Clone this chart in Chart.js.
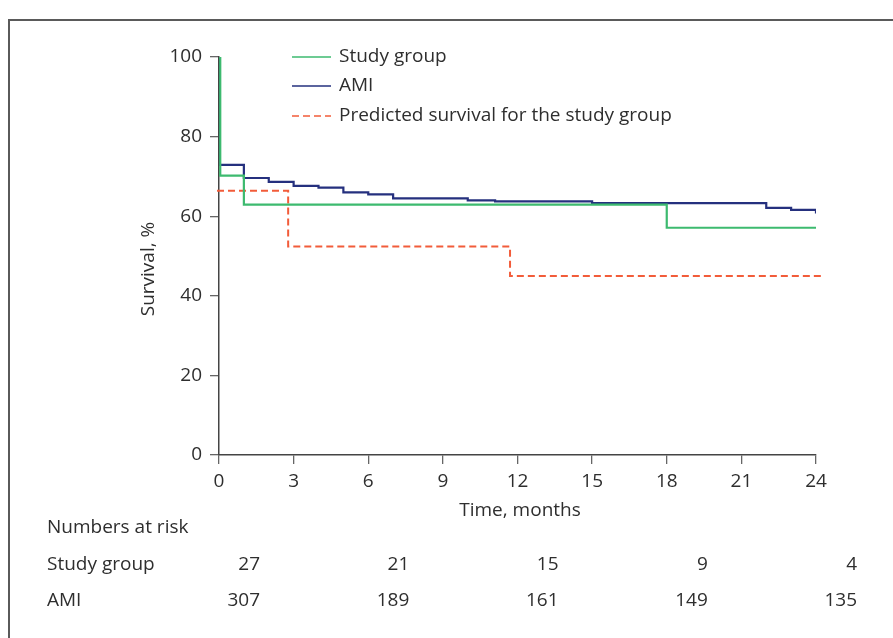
<!DOCTYPE html>
<html>
<head>
<meta charset="utf-8">
<script src="https://cdn.jsdelivr.net/npm/chart.js@4"></script>
<style>
  body { margin: 0; background: #fff; }
  canvas { display: block; }
</style>
</head>
<body>
<canvas id="mycanvas" width="893" height="638"></canvas>
<script>
// Kaplan-Meier curves (months, survival %)
var studyTime = [0, 0.05, 1, 18, 24];
var studySurv = [100, 70.2, 62.9, 57.1, 57.1];

var amiTime = [0, 0, 1, 2, 3, 4, 5, 6, 7, 10, 11.1, 15, 22, 23, 24];
var amiSurv = [100, 72.9, 69.6, 68.6, 67.6, 67.2, 66.0, 65.5, 64.5, 64.0, 63.7, 63.3, 62.1, 61.6, 60.7];

var predTime = [-0.08, -0.08, 2.78, 11.7, 24.2];
var predSurv = [100, 66.4, 52.4, 45.0, 45.0];

var seriesNames = ["Study group", "AMI", "Predicted survival for the study group"];

// numbers at risk table
var riskMonths = [0, 6, 12, 18, 24];
var riskStudy = [27, 21, 15, 9, 4];
var riskAmi = [307, 189, 161, 149, 135];

var xTicks = [0, 3, 6, 9, 12, 15, 18, 21, 24];
var yTicks = [0, 20, 40, 60, 80, 100];

function toPoints(t, v) {
    var pts = [];
    for (var i in t) {
        pts.push({x: t[i], y: v[i]});
    }
    return pts;
}

var textColor = "#2e2e2e";
var fontFam = "'Open Sans', sans-serif";
var fontSize = 19;

// extra text: frame, legend, axis titles, risk table
var extras = {
    id: "extras",
    afterDraw: function(chart) {
        var ctx = chart.ctx;
        var xs = chart.scales.x;
        ctx.save();

        // frame (top + left edges)
        ctx.strokeStyle = "#5a5a5a";
        ctx.lineWidth = 2;
        ctx.beginPath();
        ctx.moveTo(893, 20);
        ctx.lineTo(9, 20);
        ctx.lineTo(9, 638);
        ctx.stroke();

        ctx.font = fontSize + "px " + fontFam;
        ctx.fillStyle = textColor;
        ctx.textBaseline = "middle";

        // legend
        var ly = [57, 86, 116];
        chart.data.datasets.forEach(function(ds, i) {
            ctx.strokeStyle = ds.borderColor;
            ctx.lineWidth = 1.6;
            ctx.setLineDash(ds.borderDash || []);
            ctx.beginPath();
            ctx.moveTo(292, ly[i]);
            ctx.lineTo(331, ly[i]);
            ctx.stroke();
            ctx.setLineDash([]);
            ctx.textAlign = "left";
            ctx.fillText(seriesNames[i], 339, ly[i]);
        });

        // axis titles
        ctx.textAlign = "center";
        ctx.fillText("Time, months", 520, 511);
        ctx.save();
        ctx.translate(149, 269);
        ctx.rotate(-Math.PI / 2);
        ctx.fillText("Survival, %", 0, 0);
        ctx.restore();

        // numbers at risk
        ctx.textAlign = "left";
        ctx.fillText("Numbers at risk", 47, 528);
        ctx.fillText("Study group", 47, 565);
        ctx.fillText("AMI", 47, 601);
        ctx.textAlign = "right";
        for (var i in riskMonths) {
            var px = xs.getPixelForValue(riskMonths[i]) + 41;
            ctx.fillText(String(riskStudy[i]), px, 565);
            ctx.fillText(String(riskAmi[i]), px, 601);
        }
        ctx.restore();
    }
};

var chartdata = {
    datasets: [
        {
            label: seriesNames[0],
            data: toPoints(studyTime, studySurv),
            borderColor: "#3dba6f",
            borderWidth: 2.2,
            stepped: "before",
            pointRadius: 0,
            fill: false,
            order: 0
        },
        {
            label: seriesNames[1],
            data: toPoints(amiTime, amiSurv),
            borderColor: "#25307e",
            borderWidth: 2.2,
            stepped: "before",
            pointRadius: 0,
            fill: false,
            order: 1
        },
        {
            label: seriesNames[2],
            data: toPoints(predTime, predSurv),
            borderColor: "#f25c3a",
            borderWidth: 2,
            borderDash: [7, 4],
            stepped: "before",
            pointRadius: 0,
            fill: false,
            clip: false,
            order: 2
        }
    ]
};

Chart.defaults.font.family = fontFam;
Chart.defaults.font.size = fontSize;
Chart.defaults.color = textColor;

var ctx = document.getElementById("mycanvas");
var LineGraph = new Chart(ctx, {
    type: "line",
    data: chartdata,
    plugins: [extras],
    options: {
        responsive: false,
        animation: false,
        layout: { padding: { top: 57, right: 77, left: 0, bottom: 0 } },
        plugins: {
            legend: { display: false },
            tooltip: { enabled: false }
        },
        scales: {
            x: {
                type: "linear",
                min: 0,
                max: 24,
                afterFit: function(s) { s.height = 183; },
                afterBuildTicks: function(s) {
                    s.ticks = xTicks.map(function(v) { return {value: v}; });
                },
                border: { display: true, color: "#444", width: 1.5 },
                grid: { drawOnChartArea: false, drawTicks: true, tickLength: 9, color: "#666", lineWidth: 1.3 },
                ticks: { padding: 6, maxRotation: 0, autoSkip: false }
            },
            y: {
                min: 0,
                max: 100,
                afterFit: function(s) { s.width = 219; },
                afterBuildTicks: function(s) {
                    s.ticks = yTicks.map(function(v) { return {value: v}; });
                },
                border: { display: true, color: "#444", width: 1.5 },
                grid: { drawOnChartArea: false, drawTicks: true, tickLength: 9, color: "#666", lineWidth: 1.3 },
                ticks: { padding: 8 }
            }
        }
    }
});
</script>
</body>
</html>
